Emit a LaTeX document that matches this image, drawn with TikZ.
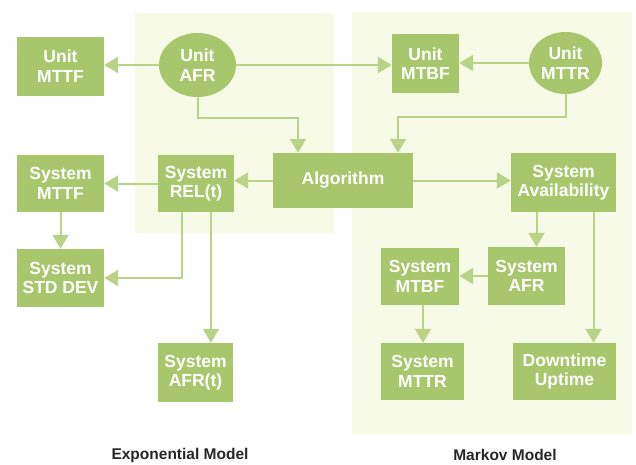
\documentclass[tikz,border=0pt]{standalone}
\usepackage{fontspec}
\setmainfont{Liberation Sans}
\usetikzlibrary{positioning, shapes.geometric, arrows.meta}

\definecolor{boxgreen}{RGB}{168,198,108}
\definecolor{linegreen}{RGB}{184,210,134}
\definecolor{panelcream}{RGB}{248,250,232}

\tikzset{
  block/.style={rectangle, fill=boxgreen, text=white, align=center, inner sep=0pt,
    font=\fontsize{17.5}{19.5}\selectfont\bfseries},
  source/.style={block, ellipse},
  flow/.style={draw=linegreen, line width=2pt, -{Triangle[width=16pt,length=14pt]}},
  model/.style={font=\fontsize{15.5}{17}\selectfont\bfseries, text=black!85}
}

\begin{document}
\begin{tikzpicture}[x=1pt, y=-1pt]
    \useasboundingbox (0,0) rectangle (636,464);
    % background panels
    \fill[panelcream] (135,13) rectangle (334,233);
    \fill[panelcream] (352,12) rectangle (632,434);

    \node[source, minimum width=77pt, minimum height=64pt] (uafr) at (197.5,65) {Unit\\AFR};
    \node[block, minimum width=87pt, minimum height=59pt] (umttf) at (60.5,66) {Unit\\MTTF};
    \node[block, minimum width=67pt, minimum height=59pt] (umtbf) at (425.5,63.5) {Unit\\MTBF};
    \node[source, minimum width=73pt, minimum height=62pt] (umttr) at (565.5,63) {Unit\\MTTR};

    \node[block, minimum width=140pt, minimum height=55pt] (algo) at (343,180.5) {Algorithm};
    \node[block, minimum width=76pt, minimum height=57pt] (srel) at (196,183.5) {System\\REL(t)};
    \node[block, minimum width=87pt, minimum height=57pt] (smttf) at (60.5,183.5) {System\\MTTF};
    \node[block, minimum width=87pt, minimum height=58pt] (sstd) at (60.5,278) {System\\STD DEV};
    \node[block, minimum width=75pt, minimum height=59pt] (safrt) at (195.5,372.5) {System\\AFR(t)};

    \node[block, minimum width=105pt, minimum height=59pt] (savail) at (563.5,182.5) {System\\Availability};
    \node[block, minimum width=77pt, minimum height=58pt] (safr) at (526.5,276) {System\\AFR};
    \node[block, minimum width=103pt, minimum height=57pt] (down) at (564.5,371.5) {Downtime\\Uptime};
    \node[block, minimum width=78pt, minimum height=57pt] (smtbf) at (420,276.5) {System\\MTBF};
    \node[block, minimum width=83pt, minimum height=57pt] (smttr) at (422.5,371.5) {System\\MTTR};

    \node[model] (expo) at (180,455) {Exponential Model};
    \node[model] (markov) at (505,455) {Markov Model};

    \coordinate (jafr) at (298,118);
    \coordinate (jmttr) at (398,117);

    \draw[flow] (uafr.west) -- (uafr.west -| umttf.east);
    \draw[flow] (uafr.east) -- (uafr.east -| umtbf.west);
    \draw[flow] (umttr.west) -- (umttr.west -| umtbf.east);
    \draw[flow] (uafr.south) |- (jafr) -- (jafr |- algo.north);
    \draw[flow] (umttr.south) |- (jmttr) -- (jmttr |- algo.north);

    \draw[flow] (algo.west) -- (algo.west -| srel.east);
    \draw[flow] (srel.west) -- (srel.west -| smttf.east);
    \draw[flow] (smttf.south) -- (sstd.north);
    \draw[flow] ([xshift=-14pt]srel.south) |- (sstd.east);
    \draw[flow] ([xshift=15pt]srel.south) -- ([xshift=15pt]srel.south |- safrt.north);

    \draw[flow] (algo.east) -- (algo.east -| savail.west);
    \draw[flow] ([xshift=-27pt]savail.south) -- ([xshift=-27pt]savail.south |- safr.north);
    \draw[flow] ([xshift=30pt]savail.south) -- ([xshift=30pt]savail.south |- down.north);
    \draw[flow] (safr.west) -- (safr.west -| smtbf.east);
    \draw[flow] ([xshift=3pt]smtbf.south) -- ([xshift=3pt]smtbf.south |- smttr.north);
\end{tikzpicture}
\end{document}
